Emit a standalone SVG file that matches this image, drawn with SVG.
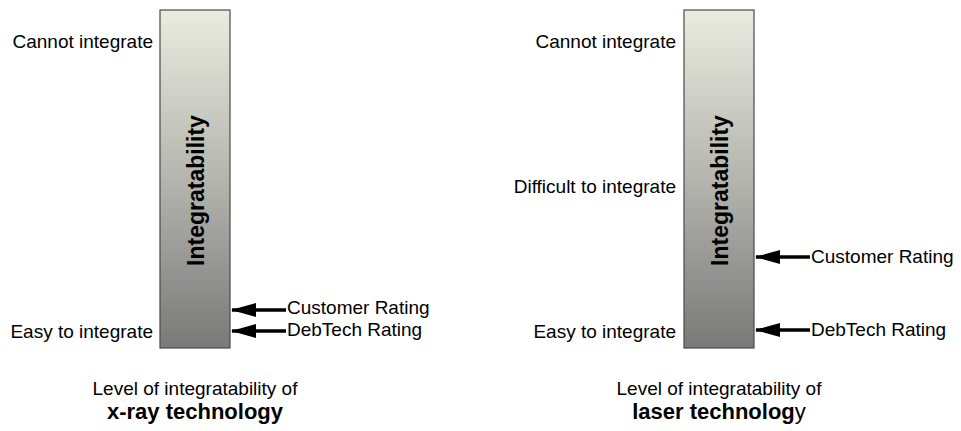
<svg xmlns="http://www.w3.org/2000/svg" width="961" height="431" viewBox="0 0 961 431">
<defs>
<linearGradient id="barGrad" x1="0" y1="0" x2="0" y2="1">
<stop offset="0" stop-color="#EAECE0"/>
<stop offset="0.5" stop-color="#B4B5AE"/>
<stop offset="1" stop-color="#797979"/>
</linearGradient>
<marker id="head" markerWidth="25" markerHeight="14" refX="24" refY="7" orient="auto" markerUnits="userSpaceOnUse">
<path d="M0,0 L25,7 L0,14 Z" fill="#000"/>
</marker>
</defs>
<style>
.bar{fill:url(#barGrad);stroke:#4a4a4a;stroke-width:1.2}
.lbl{font-family:"Liberation Sans",Arial,sans-serif;font-size:19px;fill:#000}
.bt{font-family:"Liberation Sans",Arial,sans-serif;font-size:23px;font-weight:bold;fill:#000}
.cap2{font-family:"Liberation Sans",Arial,sans-serif;font-size:22px;font-weight:bold;fill:#000}
.arr{stroke:#000;stroke-width:3.5;fill:none;marker-end:url(#head)}
</style>
<g id="bar-xray">
<rect class="bar" x="160" y="10" width="70" height="338"/>
<text class="bt" transform="translate(204,190.5) rotate(-90)" text-anchor="middle">Integratability</text>
</g>
<g id="bar-laser">
<rect class="bar" x="684" y="10" width="70" height="338"/>
<text class="bt" transform="translate(728,190.5) rotate(-90)" text-anchor="middle">Integratability</text>
</g>
<g id="labels-xray">
<text class="lbl" x="153" y="48" text-anchor="end">Cannot integrate</text>
<text class="lbl" x="153" y="338" text-anchor="end">Easy to integrate</text>
</g>
<g id="labels-laser">
<text class="lbl" x="676" y="48" text-anchor="end">Cannot integrate</text>
<text class="lbl" x="676" y="193" text-anchor="end">Difficult to integrate</text>
<text class="lbl" x="676" y="338" text-anchor="end">Easy to integrate</text>
</g>
<g id="connectors">
<line class="arr" x1="286" y1="310" x2="232" y2="310"/>
<line class="arr" x1="286" y1="331" x2="232" y2="331"/>
<line class="arr" x1="810" y1="257" x2="756" y2="257"/>
<line class="arr" x1="810" y1="330" x2="756" y2="330"/>
</g>
<g id="ratings-xray">
<text class="lbl" x="287" y="314">Customer Rating</text>
<text class="lbl" x="287" y="336">DebTech Rating</text>
</g>
<g id="ratings-laser">
<text class="lbl" x="811" y="263">Customer Rating</text>
<text class="lbl" x="811" y="336">DebTech Rating</text>
</g>
<g id="caption-xray">
<text class="lbl" x="195" y="395" text-anchor="middle">Level of integratability of</text>
<text class="cap2" x="195" y="419" text-anchor="middle">x-ray technology</text>
</g>
<g id="caption-laser">
<text class="lbl" x="719" y="395" text-anchor="middle">Level of integratability of</text>
<text x="719" y="419" text-anchor="middle" class="cap2">laser technolog<tspan font-weight="normal">y</tspan></text>
</g>
</svg>
